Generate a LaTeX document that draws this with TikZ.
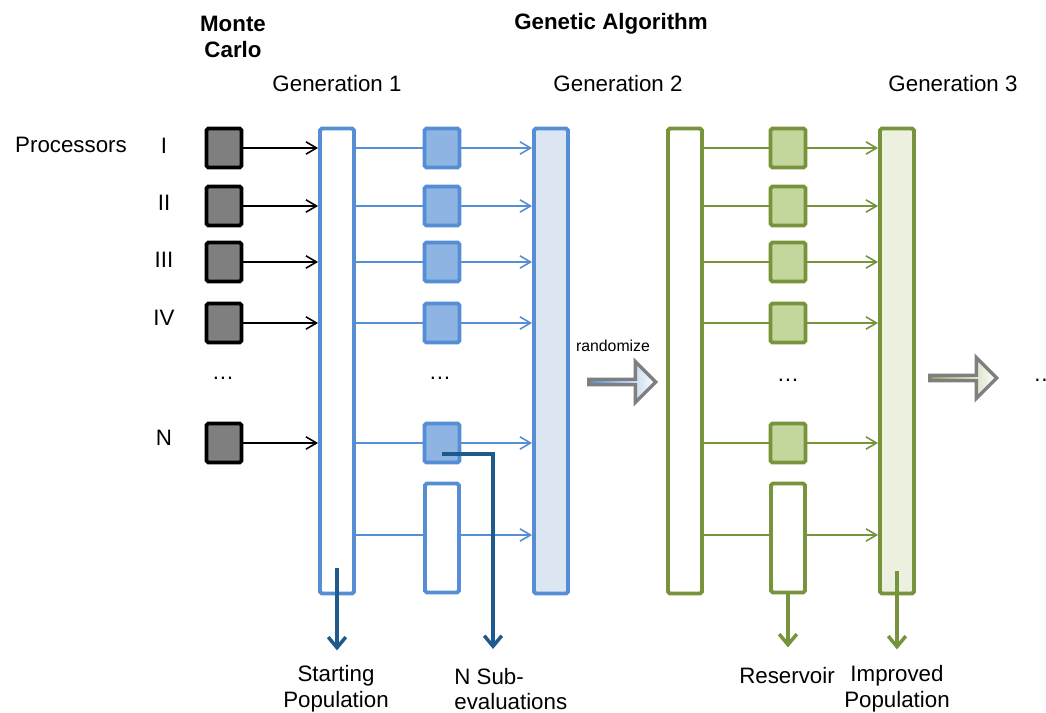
\documentclass[tikz,border=0pt]{standalone}
\usepackage{fontspec}
\setmainfont{Liberation Sans}
\usepackage{xcolor}
\usetikzlibrary{arrows.meta,shapes.arrows}

\definecolor{mcgray}{HTML}{7F7F7F}
\definecolor{gablue}{HTML}{558ED5}
\definecolor{boxblue}{HTML}{8EB4E3}
\definecolor{colblue}{HTML}{DCE6F2}
\definecolor{darkblue}{HTML}{1F5A8C}
\definecolor{gagreen}{HTML}{77933C}
\definecolor{boxgreen}{HTML}{C3D69B}
\definecolor{colgreen}{HTML}{EBF1DE}

\tikzset{
    txt/.style={font=\fontsize{12.7}{14.7}\selectfont, inner sep=0pt},
    head/.style={font=\fontsize{12.7}{14.7}\selectfont\bfseries, inner sep=0pt},
    smallbox/.style={line width=2.2pt, rounded corners=1pt, minimum width=0.7cm, minimum height=0.78cm, inner sep=0pt},
    column/.style={line width=2.2pt, rounded corners=1pt, minimum width=0.68cm, minimum height=9.3cm, inner sep=0pt},
    resbox/.style={line width=2.2pt, rounded corners=1pt, minimum width=0.68cm, minimum height=2.18cm, inner sep=0pt},
    thinline/.style={line width=0.9pt},
    thinarr/.style={line width=0.9pt, -{Straight Barb[length=6pt,width=7pt]}},
    bigout/.style={line width=2pt, -{Straight Barb[length=6pt,width=10pt]}},
    bigarrow/.style={single arrow, draw=mcgray, line width=1.9pt, minimum height=1.34cm, minimum width=0.82cm, single arrow head extend=0.22cm, inner sep=0pt}
}

\begin{document}
\begin{tikzpicture}[x=0.02cm,y=-0.02cm]
    \useasboundingbox (0,0) rectangle (1046,713);

    % Headings
    \node[head, align=center] (mctitle) at (233,37) {Monte\\Carlo};
    \node[head] (gatitle) at (611,24) {Genetic Algorithm};
    \node[txt] (g1) at (337,84) {Generation 1};
    \node[txt] (g2) at (618,84) {Generation 2};
    \node[txt] (g3) at (953,84) {Generation 3};

    % Processors
    \node[txt] (proc) at (71,145) {Processors};
    \foreach \lbl/\y [count=\i] in {I/146,II/203,III/260,IV/318,N/438}
        \node[txt] (p\i) at (164,\y) {\lbl};
    \node[txt] (pdots) at (223,378) {\dots};

    % Population columns
    \node[column, draw=gablue, fill=white] (gen1) at (337,361) {};
    \node[column, draw=gablue, fill=colblue] (gen2) at (551,361) {};
    \node[column, draw=gagreen, fill=white] (gen3a) at (685,361) {};
    \node[column, draw=gagreen, fill=colgreen] (gen3b) at (897,361) {};

    % Monte Carlo runs and sub-evaluations
    \foreach \y [count=\i] in {148,206,262,323,443} {
        \node[smallbox, draw=black, fill=mcgray] (mc\i) at (224,\y) {};
        \draw[thinarr, black] (mc\i) -- (mc\i -| gen1.west);
        \node[smallbox, draw=gablue, fill=boxblue] (sb\i) at (442,\y) {};
        \draw[thinline, gablue] (sb\i -| gen1.east) -- (sb\i.west);
        \draw[thinarr, gablue] (sb\i.east) -- (sb\i -| gen2.west);
        \node[smallbox, draw=gagreen, fill=boxgreen] (sg\i) at (788,\y) {};
        \draw[thinline, gagreen] (sg\i -| gen3a.east) -- (sg\i.west);
        \draw[thinarr, gagreen] (sg\i.east) -- (sg\i -| gen3b.west);
    }
    \node[txt] (bdots) at (440,378) {\dots};
    \node[txt] (gdots) at (788,380) {\dots};

    % Reservoir
    \coordinate (r6) at (0,535);
    \node[resbox, draw=gablue, fill=white] (res1) at (442,538) {};
    \draw[thinline, gablue] (gen1.east |- r6) -- (res1.west |- r6);
    \draw[thinarr, gablue] (res1.east |- r6) -- (gen2.west |- r6);
    \node[resbox, draw=gagreen, fill=white] (res2) at (788,538) {};
    \draw[thinline, gagreen] (gen3a.east |- r6) -- (res2.west |- r6);
    \draw[thinarr, gagreen] (res2.east |- r6) -- (gen3b.west |- r6);

    % Between generations
    \node[txt] (rnd) at (613,346) {\fontsize{9}{11}\selectfont randomize};
    \node[bigarrow, left color=gablue, right color=white] (rarr) at (621,382) {};
    \node[bigarrow, left color=gagreen!70!boxgreen, right color=white] (garr) at (962,378) {};
    \node[txt, anchor=west] (more) at (1033,380) {\dots};

    % Outputs
    \coordinate (subend) at (493,649);
    \draw[bigout, darkblue] ([yshift=0.54cm]gen1.south) -- ([yshift=-1.1cm]gen1.south);
    \draw[bigout, darkblue] ([yshift=-0.22cm]sb5.center) -| (subend);
    \draw[bigout, gagreen] (res2.south) -- ++(0,53);
    \draw[bigout, gagreen] ([yshift=0.48cm]gen3b.south) -- ++(0,78);

    \node[txt, align=center] (start) at (336,689) {Starting\\Population};
    \node[txt, align=left, anchor=west] (subev) at (454,689) {N Sub-\\evaluations};
    \node[txt] (resv) at (787,676) {Reservoir};
    \node[txt, align=center] (impr) at (897,689) {Improved\\Population};
\end{tikzpicture}
\end{document}
